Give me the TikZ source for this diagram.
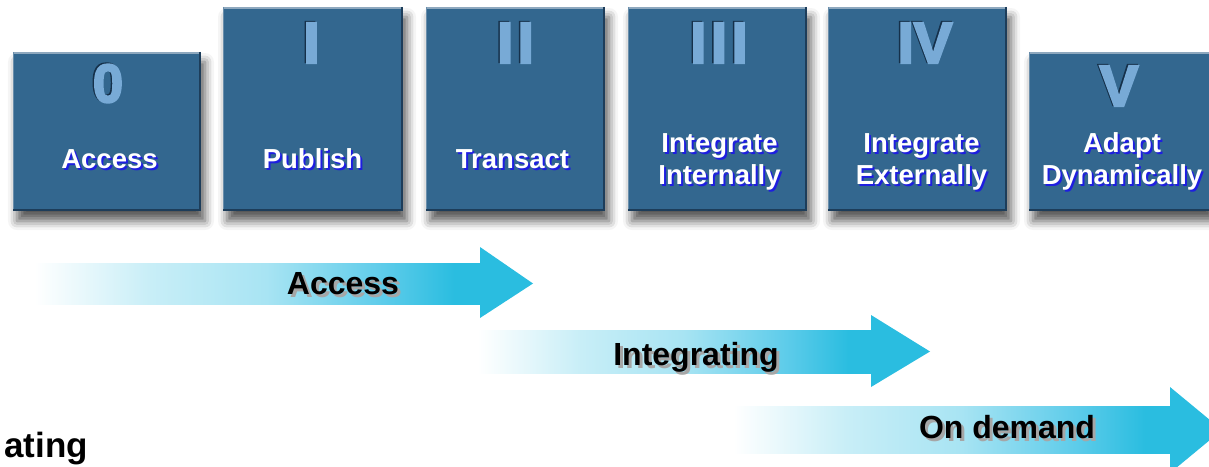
\documentclass[tikz,border=0pt]{standalone}
\usepackage{fontspec}
\setmainfont{Liberation Sans}
\newfontfamily\numfont{Liberation Sans}[BoldFeatures={FakeBold=4}]
\usetikzlibrary{shadows.blur}
\definecolor{boxblue}{HTML}{33678F}
\definecolor{numblue}{HTML}{78AAD6}
\definecolor{numdark}{HTML}{15304A}
\definecolor{lblshadow}{HTML}{1E1EE0}
\definecolor{arrcyan}{HTML}{2ABDE0}
\definecolor{boxlight}{HTML}{8EA8BE}
\definecolor{boxdark}{HTML}{1D3D5A}
\definecolor{fadeA}{HTML}{C8EEF7}
\definecolor{fadeB}{HTML}{A8E4F3}
\definecolor{fadeC}{HTML}{5ECCEA}
\pgfdeclarehorizontalshading{arrfade}{100bp}{color(0bp)=(white); color(25bp)=(white); color(38bp)=(fadeA); color(51bp)=(fadeB); color(64bp)=(fadeC); color(72bp)=(arrcyan); color(100bp)=(arrcyan)}
\newcommand\bevel[1]{%
  \draw[boxlight,line width=2pt] ([yshift=-1pt]#1.north west) -- ([yshift=-1pt]#1.north east);
  \draw[boxlight!60!boxblue,line width=1.5pt] ([xshift=0.75pt]#1.north west) -- ([xshift=0.75pt]#1.south west);
  \draw[boxdark,line width=2.5pt] ([yshift=1.25pt]#1.south west) -- ([yshift=1.25pt]#1.south east);
  \draw[boxdark,line width=2pt] ([xshift=-1pt]#1.north east) -- ([xshift=-1pt]#1.south east);}
% #1 name, #2 position, #3 text
\newcommand\boxlbl[3]{%
  \node[lbl,text=lblshadow,xshift=2pt,yshift=-2pt] (#1s) at (#2) {#3};
  \node[lbl] (#1) at (#2) {#3};}
\newcommand\numlbl[4]{%
  \node[numl,font=\numfont\bfseries\fontsize{#4}{#4}\selectfont,text=numdark,xshift=-1.5pt,yshift=1pt] (#1s) at (#2) {#3};
  \node[numl,font=\numfont\bfseries\fontsize{#4}{#4}\selectfont] (#1) at (#2) {#3};}
\newcommand\arrlbl[3]{%
  \node[alb,text=black!35,xshift=3pt,yshift=-3pt] (#1s) at (#2) {#3};
  \node[alb] (#1) at (#2) {#3};}
\tikzset{
  box/.style={fill=boxblue,draw=none,inner sep=0pt,
    blur shadow={shadow xshift=4pt,shadow yshift=-10pt,shadow blur radius=9pt,shadow opacity=65}},
  lbl/.style={anchor=base,text=white,inner sep=0pt,font=\fontsize{27.5}{30}\selectfont\bfseries},
  numl/.style={anchor=center,text=numblue,inner sep=0pt},
  alb/.style={anchor=base,text=black,inner sep=0pt,font=\fontsize{32}{34}\selectfont\bfseries},
}
\begin{document}
\begin{tikzpicture}[x=1pt,y=-1pt]
\useasboundingbox (0,0) rectangle (1209,466);
% boxes
\node[box,minimum width=188pt,minimum height=159pt] (b0) at (107,131.5) {};
\node[box,minimum width=180pt,minimum height=204pt] (b1) at (313,109) {};
\node[box,minimum width=179pt,minimum height=204pt] (b2) at (515.5,109) {};
\node[box,minimum width=179pt,minimum height=204pt] (b3) at (717.5,109) {};
\node[box,minimum width=179pt,minimum height=204pt] (b4) at (917.5,109) {};
\node[box,minimum width=182pt,minimum height=159pt] (b5) at (1120,131.5) {};
\bevel{b0}\bevel{b1}\bevel{b2}\bevel{b3}\bevel{b4}\bevel{b5}
% numerals
\numlbl{n0}{108,83.5}{0}{54}
\numlbl{n1}{311.5,43}{I}{58}
\numlbl{n2}{515.5,43}{I\kern4.5pt I}{58}
\numlbl{n3}{719,43}{I\kern4.5pt I\kern4.5pt I}{58}
\numlbl{n4}{925,43}{IV}{58}
\numlbl{n5}{1119,86}{V}{58}
% box labels
\boxlbl{l0}{109.5,168}{Access}
\boxlbl{l1}{312.5,168}{Publish}
\boxlbl{l2}{512.5,168}{Transact}
\boxlbl{l3a}{719.5,152}{Integrate}
\boxlbl{l3b}{719.5,184}{Internally}
\boxlbl{l4a}{921.5,152}{Integrate}
\boxlbl{l4b}{921.5,184}{Externally}
\boxlbl{l5a}{1122,152}{Adapt}
\boxlbl{l5b}{1122,184}{Dynamically}
% arrows
\shade[shading=arrfade] (34,263) rectangle (481,304);
\fill[arrcyan] (480,247) -- (533,283.5) -- (480,318) -- cycle;
\shade[shading=arrfade] (478,330) rectangle (872,373);
\fill[arrcyan] (871,315) -- (930,351.5) -- (871,387) -- cycle;
\shade[shading=arrfade] (733,406) rectangle (1171,453);
\fill[arrcyan] (1170,387) -- (1222,430) -- (1170,473) -- cycle;
\arrlbl{a1}{343,294}{Access}
\arrlbl{a2}{696,365}{Integrating}
\arrlbl{a3}{1007,438}{On demand}
\node[anchor=base east,inner sep=0pt,font=\fontsize{35}{36}\selectfont\bfseries] (cut) at (88,457) {ating};
\end{tikzpicture}
\end{document}
